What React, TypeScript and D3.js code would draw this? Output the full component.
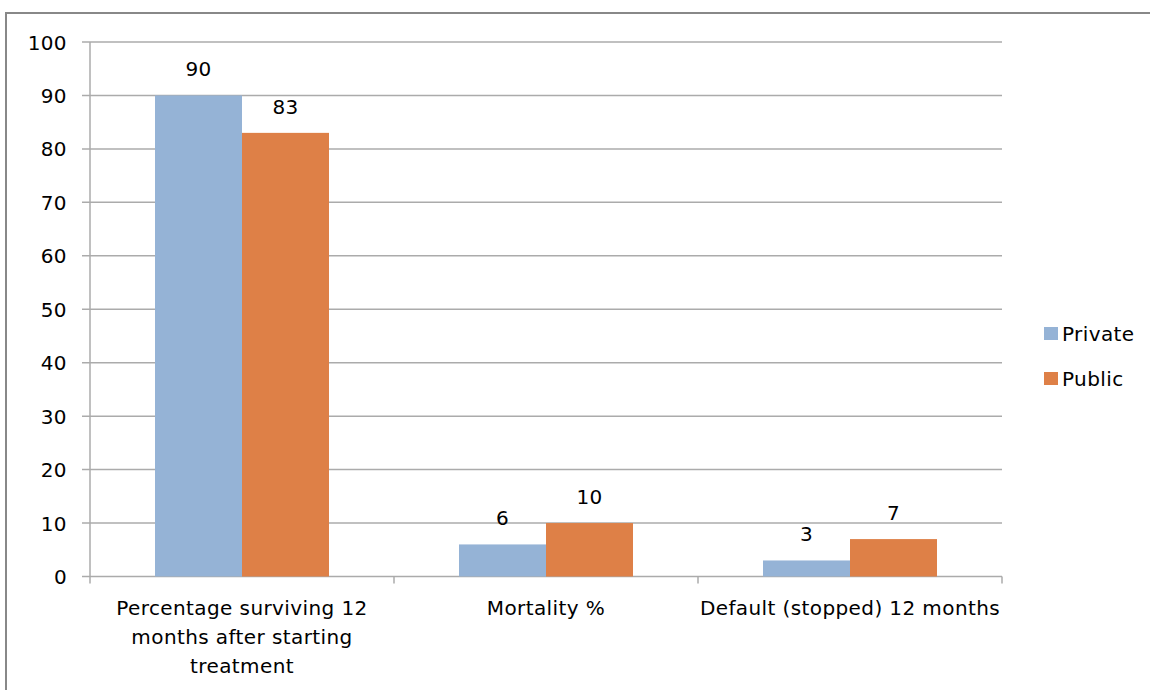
import React from "react";
import * as d3 from "d3";

const categories = [
  ["Percentage surviving 12", "months after starting", "treatment"],
  ["Mortality %"],
  ["Default (stopped) 12 months"],
];
const seriesNames = ["Private", "Public"];
const privateValues = [90, 6, 3];
const publicValues = [83, 10, 7];
const yTicks = [0, 10, 20, 30, 40, 50, 60, 70, 80, 90, 100];
const colors = ["#95B3D6", "#DE8047"];

export default function App() {
  const W = 1150, H = 690;
  const left = 90, right = 1002, top = 42, bottom = 576.5;
  const font = "'DejaVu Sans', sans-serif";
  const fs = 20;
  const ls = 0.4;
  const y = d3.scaleLinear().domain([0, 100]).range([bottom, top]);
  const x0 = d3.scaleBand<number>().domain(categories.map((_, i) => i)).range([left, right]).paddingInner(0).paddingOuter(0);
  const groupW = x0.bandwidth() * (174 / 304);
  const x1 = d3.scaleBand<number>().domain([0, 1]).range([0, groupW]).padding(0);
  const series = [privateValues, publicValues];
  return (
    <svg width={W} height={H} style={{ position: "absolute", left: 0, top: 0, background: "#fff" }} fontFamily={font} letterSpacing={ls}>
      <rect x={6} y={13} width={W + 20} height={H + 20} fill="#fff" stroke="#888" strokeWidth={2} />
      {yTicks.map((t) => (
        <g key={t}>
          <line x1={82} x2={right} y1={y(t)} y2={y(t)} stroke="#ababab" strokeWidth={1.5} />
          <text x={67} y={y(t) + 7.5} textAnchor="end" fontSize={fs} fill="#000">{t}</text>
        </g>
      ))}
      <line x1={left} x2={left} y1={top} y2={bottom} stroke="#ababab" strokeWidth={1.5} />
      {[0, 1, 2, 3].map((i) => {
        const xx = left + i * x0.step();
        return <line key={i} x1={xx} x2={xx} y1={bottom} y2={bottom + 7} stroke="#ababab" strokeWidth={1.5} />;
      })}
      {categories.map((c, ci) => {
        const gx = (x0(ci) as number) + (x0.bandwidth() - groupW) / 2;
        return (
          <g key={ci}>
            {series.map((vals, si) => {
              const bx = gx + (x1(si) as number);
              const v = vals[ci];
              return (
                <g key={si}>
                  <rect x={bx} y={y(v)} width={x1.bandwidth()} height={bottom - y(v)} fill={colors[si]} />
                  <text x={bx + x1.bandwidth() / 2} y={y(v) - 19} textAnchor="middle" fontSize={fs} fill="#000">{v}</text>
                </g>
              );
            })}
            {c.map((line, li) => (
              <text key={li} x={(x0(ci) as number) + x0.bandwidth() / 2} y={615 + li * 29} textAnchor="middle" fontSize={fs} fill="#000">{line}</text>
            ))}
          </g>
        );
      })}
      {seriesNames.map((s, i) => (
        <g key={s}>
          <rect x={1044} y={327 + i * 45} width={14} height={13} fill={colors[i]} />
          <text x={1062} y={341 + i * 45} fontSize={fs} fill="#000">{s}</text>
        </g>
      ))}
    </svg>
  );
}
